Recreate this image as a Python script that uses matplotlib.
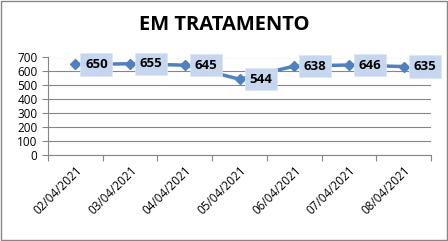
import matplotlib.pyplot as plt
from matplotlib.patches import Rectangle

datas = ["02/04/2021", "03/04/2021", "04/04/2021", "05/04/2021",
         "06/04/2021", "07/04/2021", "08/04/2021"]
valores = [650, 655, 645, 544, 638, 646, 635]

fig = plt.figure(figsize=(4.48, 2.41), dpi=100)
ax = fig.add_axes([48 / 448, 1 - 155 / 241, (431 - 48) / 448, (155 - 57.5) / 241])

x = list(range(len(datas)))
ax.plot(x, valores, color="#4f81bd", linewidth=2.5, marker="D", markersize=5,
        zorder=3)

for xi, v in zip(x, valores):
    ax.annotate(str(v), (xi, v), xytext=(7, 0), textcoords="offset points",
                ha="left", va="center", fontsize=9.5, fontweight="bold",
                family="Open Sans", color="black", zorder=4,
                bbox=dict(boxstyle="square,pad=0.35", fc="#c6d6ef", ec="#dbe5f5", lw=0.5))

ax.set_xlim(-0.5, len(datas) - 0.5)
ax.set_ylim(0, 700)
ax.set_yticks(range(0, 701, 100))
ax.set_xticks([i - 0.5 for i in range(len(datas) + 1)], minor=False)
ax.set_xticklabels([])
ax.set_xticks(x, minor=True)
ax.set_xticklabels(datas, minor=True, rotation=45, ha="right",
                   rotation_mode="anchor", fontsize=8.5, family="Open Sans")
ax.tick_params(axis="x", which="minor", length=0, pad=6)
ax.tick_params(axis="x", which="major", length=4, color="#868686")
ax.tick_params(axis="y", length=4, color="#868686", labelsize=8.5)
for lab in ax.get_yticklabels():
    lab.set_family("Open Sans")

ax.grid(axis="y", color="#868686", linewidth=0.8)
ax.set_axisbelow(True)
for s in ["top", "right"]:
    ax.spines[s].set_visible(False)
ax.spines["left"].set_color("#868686")
ax.spines["bottom"].set_color("#868686")

fig.text(0.5, 1 - 25 / 241, "EM TRATAMENTO", ha="center", va="center",
         fontsize=14.5, fontweight="bold", family="Open Sans")

fig.patches.append(Rectangle((0.002, 0.004), 0.995, 0.992, transform=fig.transFigure,
                             fill=False, ec="#868686", lw=1))

fig.savefig("out.png", dpi=100)
